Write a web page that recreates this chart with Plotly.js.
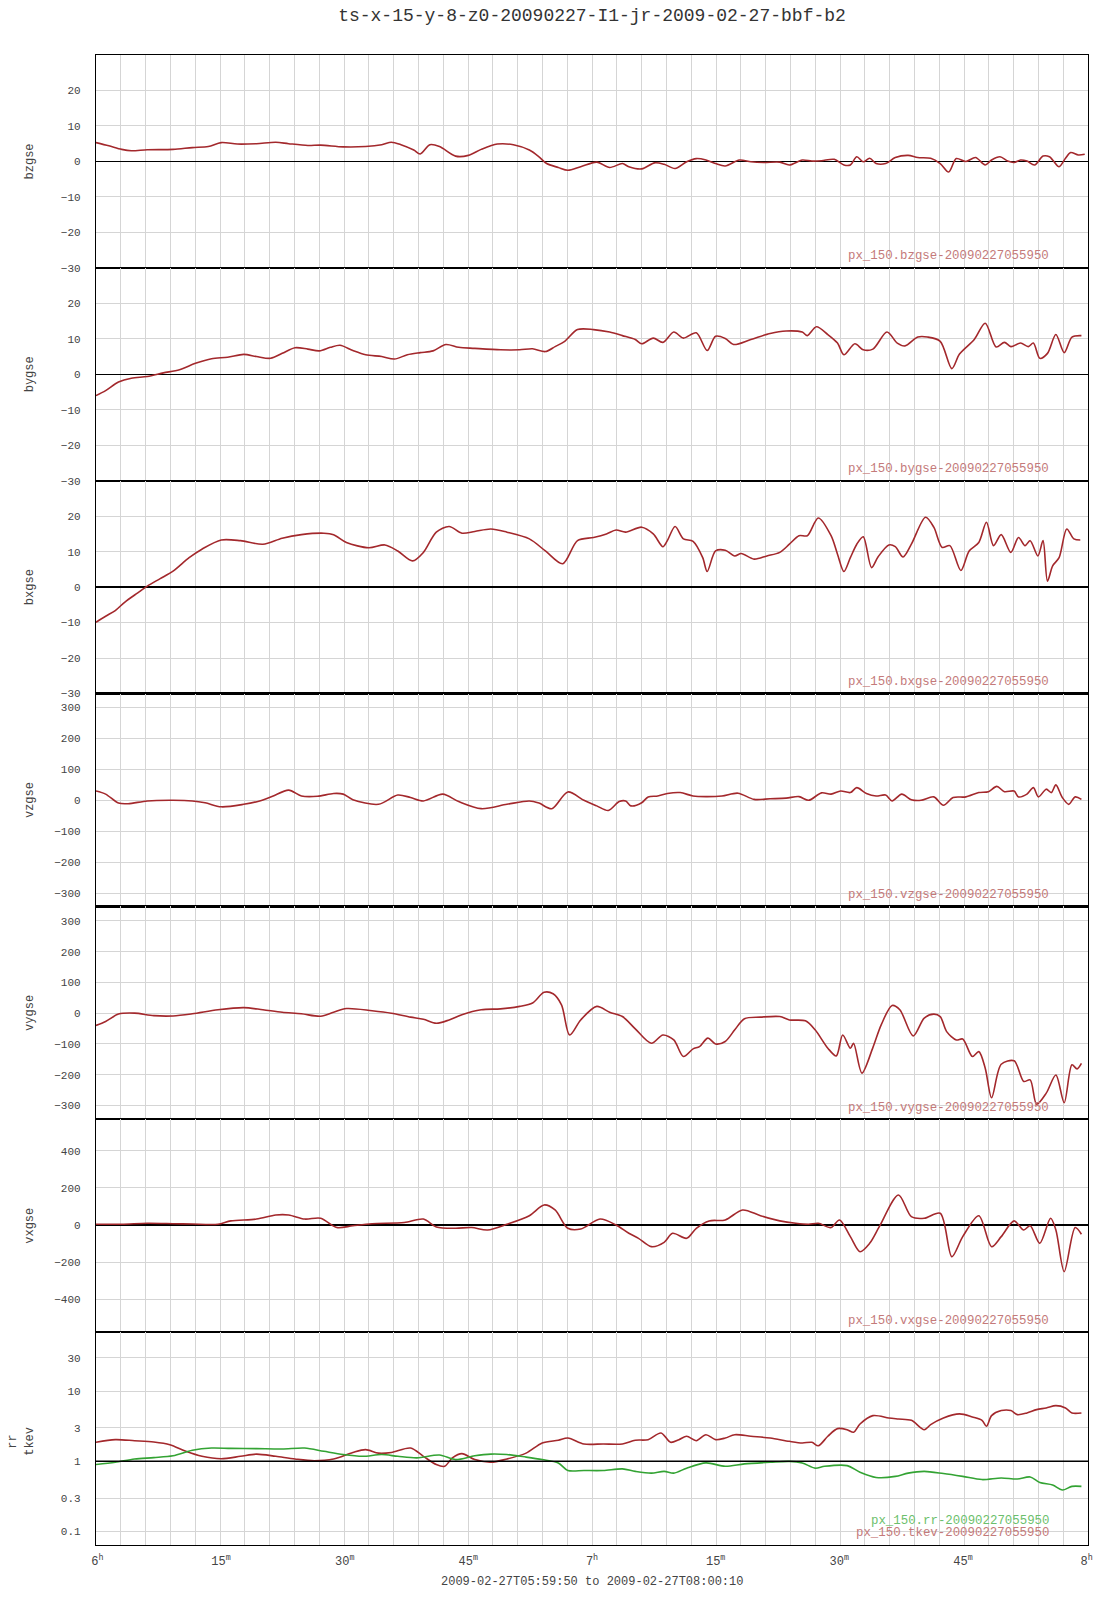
<!DOCTYPE html>
<html>
<head>
<meta charset="utf-8">
<script src="https://cdn.plot.ly/plotly-3.0.1.min.js"></script>
<style>html,body{margin:0;padding:0;background:#fff;}#chart{width:1107px;height:1600px;}</style>
</head>
<body>
<div id="chart"></div>
<script>
// time in minutes after 06:00 UT, 2009-02-27
const bzT = [-0.17,1.39,2.95,4.12,6.06,9.18,11.52,13.46,15.02,16.97,19.30,21.64,23.20,25.53,27.09,29.82,32.54,34.49,35.66,36.83,38.38,39.16,40.33,41.50,43.45,45.00,46.56,48.51,50.46,52.40,53.57,54.50,55.91,57.07,58.63,60.58,62.14,63.69,64.47,66.03,67.59,68.75,70.08,71.48,72.65,73.82,74.99,76.16,77.87,79.27,80.83,82.78,83.94,85.50,86.67,87.84,89.39,90.56,91.34,92.12,92.90,93.68,94.46,95.62,96.79,98.35,99.52,101.08,102.24,103.26,104.19,105.36,106.53,107.70,108.47,109.49,110.42,111.20,111.98,112.76,113.69,114.71,115.49,115.88,116.66,117.44,118.06,119.00,119.77];
const bzV = [5.3,4.4,3.4,3.0,3.3,3.4,3.9,4.2,5.3,4.9,5.0,5.4,5.0,4.5,4.6,4.1,4.2,4.7,5.4,4.7,3.2,2.1,4.7,4.2,1.5,1.7,3.4,4.9,4.7,3.2,1.3,-0.6,-1.7,-2.5,-1.5,-0.2,-1.7,-0.6,-1.5,-2.1,-0.4,-0.8,-2.0,-0.1,0.8,0.4,-0.6,-1.3,0.4,-0.1,-0.3,-0.2,-1.0,0.4,0.1,0.2,0.6,-1.0,-1.0,1.3,-0.1,0.9,-0.6,-0.6,1.1,1.7,1.1,0.9,-0.6,-3.0,0.8,0.0,1.1,-1.0,0.4,1.3,0.1,-0.3,0.4,0.1,-1.0,1.5,1.3,0.4,-1.5,0.9,2.5,1.8,2.0];

const byT = [-0.17,1.00,2.56,4.12,6.06,8.01,9.96,11.90,13.85,15.80,17.75,19.30,21.02,22.42,23.98,25.53,26.93,28.26,29.43,30.99,32.54,34.49,36.05,37.60,39.16,40.72,42.28,43.83,45.78,48.90,51.23,52.79,54.35,55.52,56.69,58.24,60.19,62.14,63.69,65.25,66.03,67.43,68.60,69.92,71.09,72.65,73.97,74.99,76.16,77.17,79.27,81.61,83.55,85.50,86.12,87.22,88.61,89.78,90.56,91.89,92.90,94.07,95.78,97.03,97.96,99.52,100.69,102.24,103.65,104.58,106.37,107.70,109.02,110.03,110.81,111.98,112.92,113.54,114.32,115.25,116.27,117.28,118.22,119.37];
const byV = [-6.0,-4.6,-2.2,-1.1,-0.6,0.4,1.3,3.1,4.4,4.8,5.6,5.0,4.5,5.9,7.5,7.1,6.6,7.6,8.2,6.7,5.5,5.0,4.3,5.5,6.1,6.6,8.4,7.6,7.3,6.9,6.9,7.2,6.4,7.8,9.3,12.6,12.6,11.9,10.9,9.8,8.6,10.2,9.0,11.9,10.2,11.7,6.7,10.7,10.1,8.4,9.8,11.5,12.2,11.9,10.9,13.4,11.2,8.8,5.5,8.6,6.9,7.1,11.9,8.8,8.0,10.5,10.5,9.3,1.6,5.7,9.8,14.4,7.7,9.0,7.8,8.8,7.8,8.8,4.5,5.9,11.2,6.1,10.5,10.9];

const bxT = [-0.17,1.00,2.17,3.34,4.90,6.06,7.62,9.18,11.13,12.68,15.02,17.36,20.08,22.42,24.75,27.48,28.65,30.21,32.93,34.88,36.44,38.23,39.55,41.11,42.67,44.22,45.78,47.73,49.68,52.40,54.35,56.45,58.24,60.19,61.75,62.92,64.08,66.03,67.43,68.60,69.14,70.08,71.09,72.26,73.43,73.97,74.99,76.16,77.32,78.10,79.66,81.22,82.78,83.94,85.11,86.12,87.45,89.00,89.78,90.56,91.34,92.12,92.90,93.91,94.69,96.01,96.79,97.73,98.74,100.46,101.46,102.48,103.41,104.74,105.75,106.92,107.85,108.71,109.64,110.81,111.74,112.53,113.15,114.09,114.71,115.25,115.88,116.66,117.59,118.45,119.23];
const bxV = [-9.9,-8.2,-6.6,-4.2,-1.6,0.3,2.4,4.5,8.3,10.7,13.3,13.1,12.1,13.8,14.8,15.2,14.8,12.6,11.1,11.9,10.2,7.4,9.8,15.5,17.1,15.2,15.7,16.4,15.5,13.6,10.2,6.6,13.1,14.0,15.0,16.1,15.5,16.9,15.0,11.4,13.1,17.1,13.6,12.9,8.3,4.4,10.2,10.4,8.8,9.5,7.9,8.8,9.8,12.1,14.5,14.5,19.5,14.5,9.3,4.4,8.3,12.1,14.2,5.5,8.5,11.9,11.4,8.5,12.1,19.7,16.9,11.2,11.7,4.7,10.2,12.6,18.3,11.7,14.8,9.8,14.0,11.7,13.1,8.8,13.1,1.7,6.0,8.3,16.4,13.6,13.3];

const vzT = [-0.17,1.00,2.56,3.73,6.06,9.18,11.52,13.07,15.02,17.75,19.69,21.25,23.20,24.75,26.70,28.65,29.82,30.99,34.10,36.44,37.99,39.55,41.89,43.83,46.56,49.68,52.40,53.57,55.13,57.07,59.02,60.58,61.98,63.30,64.08,64.71,66.03,66.81,67.98,69.14,70.70,72.26,73.82,75.77,77.71,79.66,81.61,83.55,85.11,86.28,87.84,89.00,90.17,91.34,92.12,93.29,94.46,95.62,96.40,97.57,98.74,99.91,101.46,102.63,103.80,105.36,106.92,108.09,109.10,110.03,111.20,111.74,112.76,113.54,114.16,115.10,115.72,116.27,117.05,117.83,118.61,119.37];
const vzV = [30,20,-9,-11,-2,0,-2,-8,-21,-13,-2,13,33,14,13,22,20,2,-13,17,9,-2,20,-4,-27,-13,-2,-9,-27,27,0,-18,-33,-4,-2,-18,-8,11,14,22,25,14,12,14,23,3,5,7,12,0,24,20,30,25,41,22,14,17,-2,20,2,0,11,-16,9,11,25,28,45,28,30,11,20,41,11,36,25,50,9,-13,11,3];

const vyT = [-0.17,1.00,2.56,4.51,6.84,9.18,11.52,14.63,17.75,20.08,22.42,24.75,27.09,28.65,30.21,33.32,35.66,37.99,39.55,41.11,42.67,44.22,46.56,48.90,51.23,52.79,54.19,55.28,56.30,57.29,58.63,60.58,62.14,63.69,65.25,67.20,68.60,69.92,71.09,72.26,73.04,74.05,74.99,76.16,77.32,78.49,80.44,82.78,83.94,85.89,87.06,88.61,89.63,90.41,91.34,91.73,92.74,94.07,95.08,96.40,97.34,98.97,100.30,101.46,102.24,103.02,104.19,104.97,106.14,106.92,107.70,108.47,109.64,111.20,112.37,113.15,113.93,115.10,116.27,117.28,118.22,118.84,119.37];
const vyV = [-40,-27,-3,0,-8,-9,-2,11,18,11,3,-2,-10,3,15,8,0,-13,-20,-33,-22,-5,11,14,22,33,68,63,27,-71,-22,22,3,-11,-51,-98,-71,-87,-141,-116,-109,-81,-100,-92,-54,-18,-13,-11,-22,-25,-54,-114,-139,-71,-114,-98,-195,-112,-38,25,11,-74,-16,-3,-11,-60,-87,-84,-141,-125,-179,-275,-166,-155,-222,-217,-296,-260,-201,-291,-168,-181,-163];

const vxT = [-0.17,2.95,6.06,9.18,11.52,14.63,16.19,19.30,21.64,23.20,25.14,27.09,29.04,30.99,33.32,37.22,39.55,41.11,43.45,45.39,47.34,49.68,52.40,54.19,55.52,57.07,58.63,60.97,62.92,64.47,65.64,67.20,68.75,69.77,71.48,72.65,74.21,76.16,78.26,80.44,82.78,84.72,86.28,87.45,89.00,90.02,91.34,92.51,93.68,94.85,97.18,98.74,100.30,102.24,103.65,104.97,106.92,108.47,109.64,111.20,112.37,113.15,114.32,115.63,116.27,117.28,118.61,119.37];
const vxV = [4,4,9,7,5,4,22,32,54,54,32,36,-14,-4,7,13,32,-11,-18,-14,-27,4,50,108,81,-18,-22,32,0,-45,-72,-117,-94,-45,-72,-18,22,27,81,50,22,9,4,9,-14,27,-63,-144,-99,-9,162,45,36,63,-171,-63,50,-117,-63,22,-27,-4,-99,36,-27,-252,-14,-50];

const tkT = [-0.17,2.17,4.51,6.84,8.79,10.74,12.68,15.02,17.36,19.30,21.64,23.98,26.31,28.65,30.99,32.54,34.10,35.66,37.99,39.55,41.11,42.12,43.06,44.22,45.78,47.73,49.68,52.01,53.96,55.91,57.07,59.02,61.36,63.69,65.25,66.81,68.37,69.53,70.55,71.48,72.65,73.82,74.99,76.16,77.32,79.27,81.61,83.94,85.50,86.67,87.45,88.61,89.78,90.95,91.73,92.51,94.07,96.01,97.18,98.74,100.30,101.08,102.63,104.58,106.14,107.31,107.85,108.47,109.64,110.81,111.59,112.76,113.93,115.10,116.27,117.44,118.22,119.37];
const tkV = [1.87,2.04,1.97,1.89,1.73,1.39,1.18,1.09,1.18,1.27,1.18,1.08,1.02,1.08,1.34,1.47,1.31,1.34,1.55,1.18,0.90,0.85,1.12,1.29,1.06,0.97,1.08,1.31,1.83,2.0,2.15,1.77,1.77,1.77,2.0,2.04,2.54,1.87,2.04,2.28,1.97,2.40,2.04,2.15,2.40,2.28,2.15,1.93,1.83,1.87,1.67,2.28,2.93,2.83,2.60,3.41,4.49,4.16,4.02,3.85,2.83,3.34,4.16,4.75,4.30,3.85,3.16,4.49,5.30,5.30,4.64,4.90,5.47,5.78,6.24,5.78,4.90,4.90];

const rrT = [-0.17,2.17,4.51,6.84,9.18,11.52,13.85,16.19,19.30,22.42,25.14,27.48,29.82,32.15,34.49,36.44,38.77,41.50,43.45,45.78,47.73,49.68,52.01,53.96,55.91,57.07,59.02,61.36,63.69,65.25,67.20,68.75,69.92,71.48,73.82,76.16,78.49,81.61,83.94,85.50,87.06,88.22,90.95,92.51,94.46,96.79,98.35,100.30,102.63,104.97,107.31,109.64,111.59,113.15,114.32,115.88,117.05,118.22,119.37];
const rrV = [0.90,0.97,1.08,1.13,1.20,1.44,1.55,1.53,1.52,1.50,1.55,1.39,1.25,1.18,1.25,1.18,1.12,1.23,1.06,1.20,1.27,1.25,1.15,1.06,0.95,0.74,0.74,0.74,0.78,0.72,0.68,0.72,0.68,0.80,0.95,0.85,0.92,0.97,1.0,0.95,0.80,0.85,0.87,0.70,0.59,0.61,0.68,0.72,0.67,0.61,0.55,0.58,0.56,0.60,0.50,0.46,0.39,0.44,0.44];

const xTickVals = [0,15,30,45,60,75,90,105,120];
const xTickText = ['6<sup>h</sup>','15<sup>m</sup>','30<sup>m</sup>','45<sup>m</sup>','7<sup>h</sup>','15<sup>m</sup>','30<sup>m</sup>','45<sup>m</sup>','8<sup>h</sup>'];
const bTicks = [-30,-20,-10,0,10,20];
const vTicks = [-300,-200,-100,0,100,200,300];
const vxTicks = [-400,-200,0,200,400];
const logTicks = [0.1,0.3,1,3,10,30];

const panelNames = ['bzgse','bygse','bxgse','vzgse','vygse','vxgse'];
const panelLabels = ['px_150.bzgse-20090227055950','px_150.bygse-20090227055950','px_150.bxgse-20090227055950','px_150.vzgse-20090227055950','px_150.vygse-20090227055950','px_150.vxgse-20090227055950'];
const rrLabel = 'px_150.rr-20090227055950';
const tkLabel = 'px_150.tkev-20090227055950';
const titleText = 'ts-x-15-y-8-z0-20090227-I1-jr-2009-02-27-bbf-b2';
const subTitle = '2009-02-27T05:59:50 to 2009-02-27T08:00:10';

const FONT = '"Liberation Mono", "Courier New", monospace';
const RED = '#a3282c';
const GREEN = '#33a333';
const GRID = '#d5d5d5';
const NP = 7;

const series = [
  {t: bzT, v: bzV, range: [-30, 30], ticks: bTicks, zero: true},
  {t: byT, v: byV, range: [-30, 30], ticks: bTicks, zero: true},
  {t: bxT, v: bxV, range: [-30, 30], ticks: bTicks, zero: true},
  {t: vzT, v: vzV, range: [-343, 345], ticks: vTicks, zero: false},
  {t: vyT, v: vyV, range: [-345, 347], ticks: vTicks, zero: false},
  {t: vxT, v: vxV, range: [-578, 570], ticks: vxTicks, zero: true}
];

const traces = [];
const layout = {
  width: 1107, height: 1600,
  margin: {l: 96, r: 19, t: 55, b: 55},
  paper_bgcolor: '#fff', plot_bgcolor: '#fff',
  showlegend: false,
  title: {text: titleText, font: {family: FONT, size: 18, color: '#333'},
          x: 0.5, xref: 'paper', xanchor: 'center', y: 1 - 15/1600, yref: 'container', yanchor: 'middle'},
  xaxis: {
    anchor: 'y7', range: [-1/6, 120 + 1/6],
    tickmode: 'array', tickvals: xTickVals, ticktext: xTickText,
    showgrid: false, zeroline: false, ticks: '',
    showline: true, linecolor: '#000', linewidth: 1.2, mirror: 'all',
    tickfont: {family: FONT, size: 12, color: '#444'},
    ticklabelstandoff: 4,
    minor: {tickmode: 'linear', tick0: -1/6, dtick: (120 + 1/3) / 40, showgrid: true, gridcolor: GRID, gridwidth: 1, ticks: ''}
  },
  annotations: [],
  shapes: []
};

function dom(i) { return [(NP - 1 - i) / NP, (NP - i) / NP]; }

series.forEach((s, i) => {
  const yk = i === 0 ? 'yaxis' : 'yaxis' + (i + 1);
  const yr = i === 0 ? 'y' : 'y' + (i + 1);
  traces.push({x: s.t, y: s.v, xaxis: 'x', yaxis: yr, type: 'scatter', mode: 'lines',
    line: {color: RED, width: 1.6, shape: 'spline', smoothing: 0.85}, hoverinfo: 'skip'});
  layout[yk] = {
    domain: dom(i), anchor: 'x', range: s.range,
    tickmode: 'array', tickvals: s.ticks,
    showgrid: true, gridcolor: GRID, gridwidth: 1,
    zeroline: s.zero, zerolinecolor: '#000', zerolinewidth: 1.5,
    showline: true, linecolor: '#000', linewidth: 1.2, mirror: true,
    ticks: '', tickfont: {family: FONT, size: 11, color: '#444'}, ticklabelstandoff: 12
  };
  layout.annotations.push({text: panelNames[i], xref: 'paper', x: -0.0665, xanchor: 'center',
    yref: yr + ' domain', y: 0.5, yanchor: 'middle', textangle: -90, showarrow: false,
    font: {family: FONT, size: 12, color: '#444'}});
  layout.annotations.push({text: panelLabels[i], xref: 'paper', x: 0.9627, xanchor: 'right',
    yref: yr + ' domain', y: 0.0545, yanchor: 'middle', showarrow: false,
    font: {family: FONT, size: 12.4, color: '#c47a7a'}});
});

// log panel (rr, tkev)
traces.push({x: tkT, y: tkV, xaxis: 'x', yaxis: 'y7', type: 'scatter', mode: 'lines',
  line: {color: RED, width: 1.6, shape: 'spline', smoothing: 0.85}, hoverinfo: 'skip'});
traces.push({x: rrT, y: rrV, xaxis: 'x', yaxis: 'y7', type: 'scatter', mode: 'lines',
  line: {color: GREEN, width: 1.6, shape: 'spline', smoothing: 0.85}, hoverinfo: 'skip'});
layout.yaxis7 = {
  domain: dom(6), anchor: 'x', type: 'log', range: [-1.193, 1.843],
  tickmode: 'array', tickvals: logTicks, ticktext: logTicks.map(String),
  showgrid: true, gridcolor: GRID, gridwidth: 1, zeroline: false,
  showline: true, linecolor: '#000', linewidth: 1.2, mirror: true,
  ticks: '', tickfont: {family: FONT, size: 11, color: '#444'}, ticklabelstandoff: 12
};
layout.shapes.push({type: 'line', xref: 'x domain', x0: 0, x1: 1, yref: 'y7', y0: 1, y1: 1,
  line: {color: '#000', width: 1.5}, layer: 'above'});
layout.annotations.push({text: 'rr', xref: 'paper', x: -0.0837, xanchor: 'center',
  yref: 'y7 domain', y: 0.485, yanchor: 'middle', textangle: -90, showarrow: false,
  font: {family: FONT, size: 12, color: '#444'}});
layout.annotations.push({text: 'tkev', xref: 'paper', x: -0.0665, xanchor: 'center',
  yref: 'y7 domain', y: 0.485, yanchor: 'middle', textangle: -90, showarrow: false,
  font: {family: FONT, size: 12, color: '#444'}});
layout.annotations.push({text: rrLabel, xref: 'paper', x: 0.9627, xanchor: 'right',
  yref: 'y7 domain', y: 0.114, yanchor: 'middle', showarrow: false,
  font: {family: FONT, size: 12.4, color: '#6cbf6c'}});
layout.annotations.push({text: tkLabel, xref: 'paper', x: 0.9627, xanchor: 'right',
  yref: 'y7 domain', y: 0.058, yanchor: 'middle', showarrow: false,
  font: {family: FONT, size: 12.4, color: '#c47a7a'}});
layout.annotations.push({text: subTitle, xref: 'paper', x: 0.5, xanchor: 'center',
  yref: 'paper', y: -37/1490, yanchor: 'middle', showarrow: false,
  font: {family: FONT, size: 12, color: '#444'}});

Plotly.newPlot('chart', traces, layout, {staticPlot: true, displayModeBar: false});
</script>
</body>
</html>
